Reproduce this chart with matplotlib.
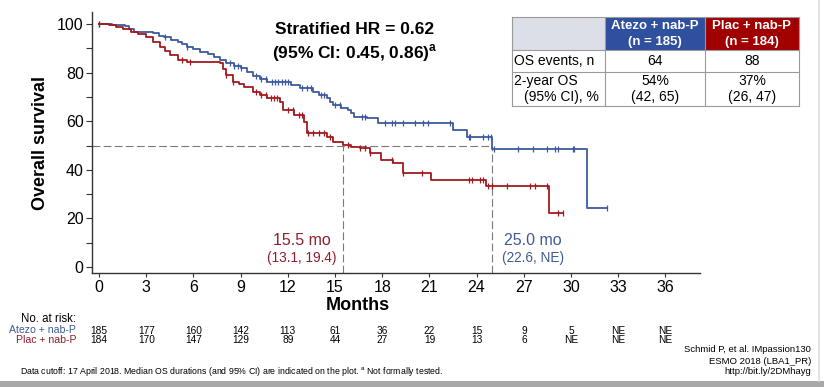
import numpy as np
import matplotlib as mpl
import matplotlib.pyplot as plt
from matplotlib.patches import Rectangle
from matplotlib.transforms import blended_transform_factory

mpl.rcParams["font.family"] = ["Liberation Sans", "DejaVu Sans"]

W, H = 824, 387
BLUE = "#3d5a9e"
RED = "#a31a1e"
BLUE_TXT = "#3f5b93"
RED_TXT = "#8e1f2f"
HEAD_BLUE = "#2f4f9f"
HEAD_RED = "#a00000"
DASH = "#7a7a7a"

# ---- KM curves (month, survival % after the step) ----
atezo_t = [0, 0.8, 1.65, 1.9, 2.2, 3.4, 3.8, 4.1, 4.6, 5.0, 5.3, 5.6, 6.0, 6.4, 6.9,
           7.3, 7.7, 8.1, 8.6, 9.0, 9.4, 9.8, 10.2, 10.7, 12.2, 12.8, 13.6, 14.0,
           14.5, 14.7, 14.9, 15.4, 15.8, 16.0, 16.2, 17.0, 17.7, 22.5, 23.4, 25.0,
           31.0, 32.3]
atezo_s = [100, 99.5, 99.2, 98.0, 96.8, 96.2, 95.3, 94.5, 93.6, 92.7, 91.7, 90.7,
           89.6, 88.6, 87.5, 86.5, 85.2, 83.8, 82.8, 81.8, 80.2, 78.6, 77.4, 76.3,
           75.0, 73.5, 72.1, 70.8, 69.4, 68.0, 66.7, 65.6, 64.6, 63.2, 61.9, 61.2,
           59.4, 56.4, 53.4, 48.7, 24.3, 24.3]
plac_t = [0, 0.6, 1.1, 1.5, 2.0, 2.5, 3.0, 3.4, 3.9, 4.2, 4.5, 5.0, 5.6, 7.7, 7.9,
          8.1, 8.5, 8.9, 9.2, 9.8, 10.2, 10.7, 11.5, 11.7, 12.4, 13.0, 13.2, 14.5,
          14.9, 15.5, 16.0, 16.6, 17.2, 17.9, 18.7, 19.3, 21.1, 24.6, 28.6, 29.5]
plac_s = [100, 99.5, 98.9, 97.8, 96.8, 95.8, 94.8, 92.8, 90.7, 89.0, 87.2, 85.2,
          84.5, 83.8, 81.5, 79.0, 76.3, 75.2, 74.2, 72.1, 70.8, 69.4, 68.0, 64.6,
          62.6, 59.8, 55.0, 53.6, 51.6, 50.2, 49.5, 48.8, 46.8, 44.0, 42.7, 38.5,
          36.0, 33.5, 22.1, 22.1]

atezo_cens = [0, 4.2, 5.6, 8.3, 8.6, 8.8, 9.0, 10.0, 10.3, 10.6, 11.0, 11.2, 11.4,
              11.6, 11.8, 12.0, 12.9, 13.2, 13.5, 14.1, 14.3, 15.0, 15.3, 16.7, 16.9,
              18.2, 18.6, 18.8, 19.3, 20.1, 20.6, 20.9, 22.3, 23.5, 23.6, 24.4, 24.7,
              24.9, 25.1, 26.6, 27.6, 28.5, 29.0, 29.2, 30.1, 30.2, 32.3]
plac_cens = [0, 5.3, 5.8, 8.1, 8.5, 10.0, 10.3, 10.6, 10.9, 11.1, 11.3, 12.0, 12.3,
             12.7, 12.9, 13.3, 13.6, 14.0, 14.3, 14.7, 15.8, 16.6, 16.9, 17.2, 18.6,
             19.3, 20.5, 23.5, 23.7, 24.2, 24.4, 24.7, 25.0, 25.9, 27.4, 27.7, 28.5,
             29.2, 29.5]

medians = [25.0, 15.5]
median_lbl = ["25.0 mo", "15.5 mo"]
median_ci = ["(22.6, NE)", "(13.1, 19.4)"]

risk_months = list(range(0, 37, 3))
risk_atezo = ["185", "177", "160", "142", "113", "61", "36", "22", "15", "9", "5", "NE", "NE"]
risk_plac = ["184", "170", "147", "129", "89", "44", "27", "19", "13", "6", "NE", "NE", "NE"]

groups = ["Atezo + nab-P", "Plac + nab-P"]
group_n = ["(n = 185)", "(n = 184)"]
os_events = ["64", "88"]
os_2yr = ["54%", "37%"]
os_2yr_ci = ["(42, 65)", "(26, 47)"]


def fx(px):
    return px / W


def fy(py):
    return 1 - py / H


def surv_at(ts, ss, t):
    i = np.searchsorted(ts, t, side="right") - 1
    return np.asarray(ss)[i]


fig = plt.figure(figsize=(W / 100, H / 100), dpi=100)
ax = fig.add_axes([fx(92), fy(273), fx(700 - 92), (273 - 12) / H])

for ts, ss, cens, col in [(atezo_t, atezo_s, atezo_cens, BLUE),
                          (plac_t, plac_s, plac_cens, RED)]:
    ax.step(ts, ss, where="post", color=col, lw=1.3, zorder=3)
    ax.plot(cens, surv_at(ts, ss, cens), ls="none", marker="|", ms=5,
            mew=0.9, color=col, zorder=3)

# median guide lines
ax.plot([-0.45, max(medians)], [50, 50], color=DASH, lw=0.8, dashes=(7, 3), zorder=2)
for m in medians:
    ax.plot([m, m], [-2.5, 50], color=DASH, lw=0.8, dashes=(7, 3), zorder=2)

for m, lbl, ci, col, dx in zip(medians, median_lbl, median_ci, [BLUE_TXT, RED_TXT],
                               [2.6, -2.6]):
    ax.text(m + dx, 11, lbl, color=col, fontsize=11.5, ha="center", va="center")
    ax.text(m + dx, 3.5, ci, color=col, fontsize=9.8, ha="center", va="center")

ax.set_xlim(-0.45, 38.2)
ax.set_ylim(-2.5, 105)
ax.set_xticks(risk_months)
ax.set_yticks(range(0, 101, 20))
ax.set_yticks(range(10, 100, 20), minor=True)
ax.tick_params(axis="both", labelsize=11.5, direction="out", length=4, width=0.8,
               color="#333333", pad=2)
ax.tick_params(axis="y", which="minor", length=4, width=0.8, color="#333333")
ax.tick_params(axis="x", length=3)
for s in ["top", "right"]:
    ax.spines[s].set_visible(False)
for s in ["left", "bottom"]:
    ax.spines[s].set_linewidth(1.0)
    ax.spines[s].set_color("#333333")

ax.set_ylabel("Overall survival", fontsize=13, fontweight="bold", labelpad=6)
fig.text(fx(358), fy(305), "Months", fontsize=13, fontweight="bold",
         ha="center", va="center")

fig.text(fx(355), fy(30), "Stratified HR = 0.62", fontsize=12.5, fontweight="bold",
         ha="center", va="center")
fig.text(fx(355), fy(53), r"(95% CI: 0.45, 0.86)$^{\mathregular{a}}$", fontsize=12.5,
         fontweight="bold", ha="center", va="center")

# ---- summary table ----
cols = [512, 605, 705, 799]
rows = [17, 50, 72, 106]
fills = ["#dcdee8", HEAD_BLUE, HEAD_RED]
for j in range(3):
    fig.patches.append(Rectangle((fx(cols[j]), fy(rows[1])), fx(cols[j + 1] - cols[j]),
                                 (rows[1] - rows[0]) / H, transform=fig.transFigure,
                                 facecolor=fills[j], edgecolor="none"))
grid_kw = dict(transform=fig.transFigure, color="#9a9a9a", lw=0.8)
for r in rows:
    fig.add_artist(plt.Line2D([fx(cols[0]), fx(cols[-1])], [fy(r), fy(r)], **grid_kw))
for c in cols:
    fig.add_artist(plt.Line2D([fx(c), fx(c)], [fy(rows[0]), fy(rows[-1])], **grid_kw))

for j in range(2):
    cx = fx((cols[j + 1] + cols[j + 2]) / 2)
    fig.text(cx, fy(26), groups[j], color="white", fontsize=9.5, fontweight="bold",
             ha="center", va="center")
    fig.text(cx, fy(42), group_n[j], color="white", fontsize=9.5, fontweight="bold",
             ha="center", va="center")
    fig.text(cx, fy(61), os_events[j], fontsize=10, ha="center", va="center")
    fig.text(cx, fy(81), os_2yr[j], fontsize=10, ha="center", va="center")
    fig.text(cx, fy(97), os_2yr_ci[j], fontsize=10, ha="center", va="center")
fig.text(fx(514), fy(61), "OS events, n", fontsize=10, ha="left", va="center")
fig.text(fx(514), fy(81), "2-year OS", fontsize=10, ha="left", va="center")
fig.text(fx(524), fy(97), "(95% CI), %", fontsize=10, ha="left", va="center")

# ---- numbers at risk ----
fig.text(fx(76), fy(319), "No. at risk:", fontsize=8.3, ha="right", va="center")
fig.text(fx(76), fy(330), groups[0], fontsize=7.6, color=BLUE_TXT, ha="right", va="center")
fig.text(fx(76), fy(340), groups[1], fontsize=7.6, color=RED_TXT, ha="right", va="center")
tr = blended_transform_factory(ax.transData, fig.transFigure)
for m, a, p in zip(risk_months, risk_atezo, risk_plac):
    ax.text(m, fy(330.5), a, transform=tr, fontsize=7.3, ha="center", va="center")
    ax.text(m, fy(340), p, transform=tr, fontsize=7.3, ha="center", va="center")

# ---- footer ----
fig.text(fx(20), fy(372), "Data cutoff: 17 April 2018. Median OS durations (and 95% CI) "
         "are indicated on the plot. $^{\\mathregular{a}}$ Not formally tested.",
         fontsize=6.3, ha="left", va="center")
for i, line in enumerate(["Schmid P, et al. IMpassion130", "ESMO 2018 (LBA1_PR)",
                          "http://bit.ly/2DMhayg"]):
    fig.text(fx(811), fy(350 + i * 11), line, fontsize=6.8, ha="right", va="center")

# slide frame
fig.patches.append(Rectangle((0, 0), 1, 6 / H, transform=fig.transFigure,
                             facecolor="#a8a8a8", edgecolor="none"))
fig.add_artist(plt.Line2D([fx(819), fx(819)], [6 / H, 1], transform=fig.transFigure,
                          color="#dddddd", lw=1.2))

fig.savefig("out.png", dpi=100)
